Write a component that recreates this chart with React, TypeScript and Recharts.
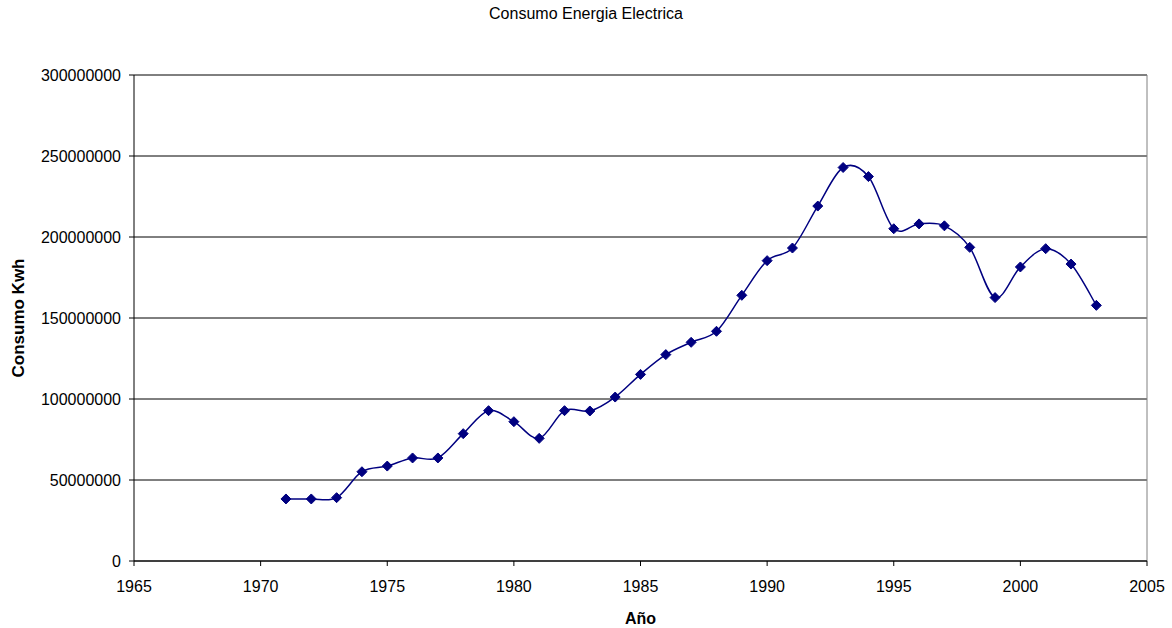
import { CartesianGrid, Label, Line, LineChart, ReferenceLine, XAxis, YAxis } from 'recharts'

const years = [
  1971, 1972, 1973, 1974, 1975, 1976, 1977, 1978, 1979, 1980, 1981, 1982, 1983, 1984, 1985, 1986, 1987,
  1988, 1989, 1990, 1991, 1992, 1993, 1994, 1995, 1996, 1997, 1998, 1999, 2000, 2001, 2002, 2003,
]

const consumo = [
  38300000, 38300000, 39100000, 55100000, 58600000, 63600000, 63600000, 78600000, 92800000, 86000000,
  75700000, 92800000, 92600000, 101200000, 115200000, 127400000, 135000000, 141800000, 164000000,
  185400000, 193200000, 219100000, 242900000, 237300000, 205100000, 208100000, 206900000, 193600000,
  162600000, 181500000, 192800000, 183300000, 157800000,
]

const xTicks = [1965, 1970, 1975, 1980, 1985, 1990, 1995, 2000, 2005]
const yTicks = [0, 50000000, 100000000, 150000000, 200000000, 250000000, 300000000]

const data = years.map((anio, i) => ({ anio, consumo: consumo[i] }))

const font = 'Arial, "Liberation Sans", sans-serif'
const navy = '#000080'

// smoothed line the way spreadsheet charts draw it (catmull-rom through the points)
const smoothCurve = (context: any) => {
  let pts: number[][] = []
  return {
    areaStart() {},
    areaEnd() {},
    lineStart() {
      pts = []
    },
    point(x: number, y: number) {
      pts.push([+x, +y])
    },
    lineEnd() {
      if (!pts.length) return
      context.moveTo(pts[0][0], pts[0][1])
      for (let i = 0; i < pts.length - 1; i++) {
        const p0 = pts[i - 1] || pts[i]
        const p1 = pts[i]
        const p2 = pts[i + 1]
        const p3 = pts[i + 2] || p2
        context.bezierCurveTo(
          p1[0] + (p2[0] - p0[0]) / 6,
          p1[1] + (p2[1] - p0[1]) / 6,
          p2[0] - (p3[0] - p1[0]) / 6,
          p2[1] - (p3[1] - p1[1]) / 6,
          p2[0],
          p2[1],
        )
      }
    },
  }
}

const Diamond = (props: any) => {
  const { cx, cy, index } = props
  if (cx == null || cy == null) return <g key={index} />
  const r = 5
  return (
    <path
      key={index}
      d={`M${cx},${cy - r}L${cx + r},${cy}L${cx},${cy + r}L${cx - r},${cy}Z`}
      fill={navy}
      stroke={navy}
      strokeWidth={1}
    />
  )
}

export default function App() {
  return (
    <div style={{ position: 'absolute', left: 0, top: 0, width: 1172, height: 628, background: '#fff', fontFamily: font }}>
      <div
        style={{
          position: 'absolute',
          top: 5,
          left: 0,
          width: 1172,
          textAlign: 'center',
          fontSize: 16,
          color: '#000',
        }}
      >
        Consumo Energia Electrica
      </div>
      <LineChart width={1172} height={628} data={data} margin={{ top: 75, right: 25, bottom: 0, left: 0 }}>
        <CartesianGrid vertical={false} stroke="#000" strokeWidth={1} />
        <XAxis
          dataKey="anio"
          type="number"
          domain={[1965, 2005]}
          ticks={xTicks}
          allowDataOverflow
          height={67}
          stroke="#000"
          tickSize={5}
          tickMargin={15}
          tick={{ fill: '#000', fontSize: 16, fontFamily: font }}
        >
          <Label
            value="Año"
            position="insideBottom"
            offset={4}
            style={{ fontSize: 16, fontWeight: 'bold', fill: '#000', fontFamily: font }}
          />
        </XAxis>
        <YAxis
          domain={[0, 300000000]}
          ticks={yTicks}
          width={134}
          stroke="#000"
          tickSize={5}
          tickMargin={8}
          tick={{ fill: '#000', fontSize: 16, fontFamily: font }}
        >
          <Label
            value="Consumo Kwh"
            angle={-90}
            position="insideLeft"
            offset={18}
            style={{ textAnchor: 'middle', fontSize: 17, fontWeight: 'bold', fill: '#000', fontFamily: font }}
          />
        </YAxis>
        <ReferenceLine x={2005} stroke="#808080" />
        <ReferenceLine y={300000000} stroke="#808080" />
        <Line
          type={smoothCurve as any}
          dataKey="consumo"
          stroke={navy}
          strokeWidth={1.5}
          dot={Diamond}
          activeDot={false}
          isAnimationActive={false}
        />
      </LineChart>
    </div>
  )
}
